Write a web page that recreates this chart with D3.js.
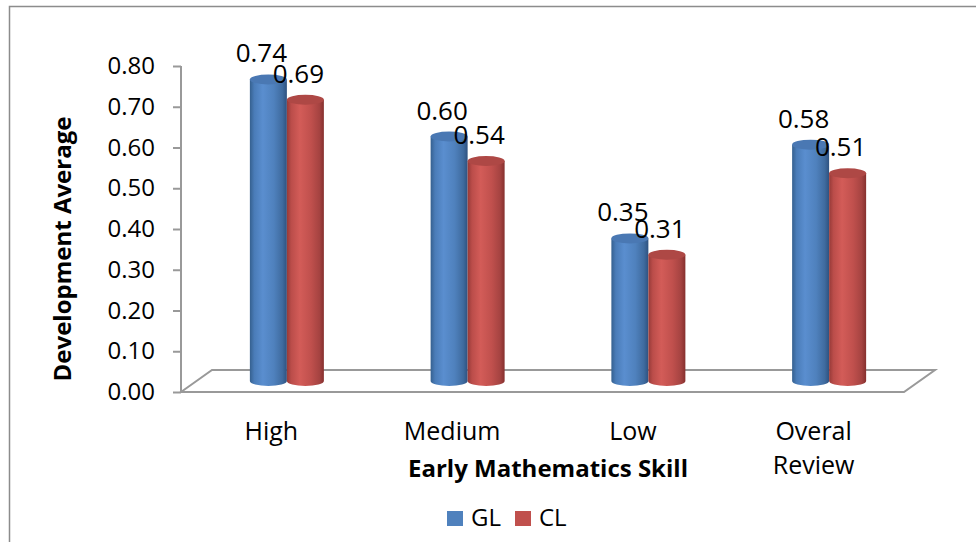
<!DOCTYPE html>
<html><head><meta charset="utf-8">
<script src="https://cdn.jsdelivr.net/npm/d3@7"></script>
<style>html,body{margin:0;padding:0;background:#fff;}svg{display:block;}</style>
</head><body>
<svg id="chart" width="976" height="542"></svg>
<script>
const categories = ["High", "Medium", "Low", "Overal Review"];
const seriesNames = ["GL", "CL"];
const glValues = [0.74, 0.60, 0.35, 0.58];
const clValues = [0.69, 0.54, 0.31, 0.51];
const yTicks = [0, 0.1, 0.2, 0.3, 0.4, 0.5, 0.6, 0.7, 0.8];
const colors = {GL: "#4F81BD", CL: "#C0504D"};

(function () {
const FONT = "'Open Sans', 'Liberation Sans', sans-serif";
const svg = d3.select("#chart");

// outer border
svg.append("rect").attr("x", 9.5).attr("y", 6.5).attr("width", 1000).attr("height", 600)
  .attr("fill", "none").attr("stroke", "#8c8c8c").attr("stroke-width", 1.5);

const pLeft = 181, pRight = 904, pBottom = 392, pTop = 66;
const depthX = 31, depthY = -22;
const y = d3.scaleLinear().domain([0, 0.8]).range([pBottom, pTop]);
const x = d3.scaleBand().domain(categories).range([pLeft, pRight]).paddingInner(0).paddingOuter(0);
const xs = d3.scaleBand().domain(seriesNames).range([-37, 37]);

// gradients
const defs = svg.append("defs");
function grad(id, stops) {
  const g = defs.append("linearGradient").attr("id", id).attr("x1", "0%").attr("x2", "100%").attr("y1", "0%").attr("y2", "0%");
  stops.forEach(s => g.append("stop").attr("offset", s[0]).attr("stop-color", s[1]));
}
grad("gGL", [["0%", "#35608f"], ["12%", "#4a7cb8"], ["35%", "#5a8ecf"], ["65%", "#4f81bd"], ["88%", "#3f6b9f"], ["100%", "#2e5280"]]);
grad("gCL", [["0%", "#963a38"], ["12%", "#bb4d4a"], ["35%", "#d35c58"], ["65%", "#c0504d"], ["88%", "#a54341"], ["100%", "#86302e"]]);
const topColors = {GL: "#4a78b3", CL: "#ae4845"};

// floor
const floorPts = [[pLeft, pBottom], [pLeft + depthX, pBottom + depthY], [pRight + depthX, pBottom + depthY], [pRight, pBottom]];
svg.append("path").attr("d", d3.line()(floorPts) + "Z")
  .attr("fill", "#fff").attr("stroke", "#999").attr("stroke-width", 2);

// y axis line and ticks
svg.append("line").attr("x1", pLeft).attr("x2", pLeft).attr("y1", pTop).attr("y2", pBottom)
  .attr("stroke", "#999").attr("stroke-width", 2);
const yAxis = svg.append("g").attr("transform", `translate(${pLeft},0)`)
  .call(d3.axisLeft(y).tickValues(yTicks).tickFormat(d3.format(".2f")).tickSize(8).tickPadding(18));
yAxis.select(".domain").remove();
yAxis.selectAll(".tick line").attr("stroke", "#999").attr("stroke-width", 2);
yAxis.selectAll(".tick text").attr("font-family", FONT).attr("font-size", 24).attr("fill", "#000");

// bars
const data = [];
categories.forEach((c, i) => {
  data.push({cat: c, s: "GL", v: glValues[i]});
  data.push({cat: c, s: "CL", v: clValues[i]});
});
const bw = 37, ry = 5;
const bars = svg.append("g");
data.forEach(d => {
  const cx = x(d.cat) + x.bandwidth() / 2 + depthX / 2 + xs(d.s) + xs.bandwidth() / 2;
  const y0 = y(0) + depthY / 2;
  const y1 = y(d.v) + depthY / 2;
  const g = bars.append("g");
  g.append("path")
    .attr("d", `M${cx - bw / 2},${y1} L${cx - bw / 2},${y0} A${bw / 2},${ry} 0 0 0 ${cx + bw / 2},${y0} L${cx + bw / 2},${y1} Z`)
    .attr("fill", `url(#g${d.s})`);
  g.append("ellipse").attr("cx", cx).attr("cy", y1).attr("rx", bw / 2).attr("ry", ry)
    .attr("fill", topColors[d.s]);
  d.cx = cx; d.y1 = y1;
});
// labels
data.forEach(d => {
  svg.append("text").attr("x", d.cx - 7).attr("y", d.y1 - 17)
    .attr("text-anchor", "middle").attr("font-family", FONT).attr("font-size", 26)
    .attr("fill", "#000").text(d3.format(".2f")(d.v));
});

// category labels
categories.forEach(c => {
  const words = c.split(" ");
  const t = svg.append("text").attr("x", x(c) + x.bandwidth() / 2).attr("y", 440)
    .attr("text-anchor", "middle").attr("font-family", FONT).attr("font-size", 25).attr("fill", "#000");
  words.forEach((w, i) => t.append("tspan").attr("x", x(c) + x.bandwidth() / 2).attr("dy", i === 0 ? 0 : 34).text(w));
});

// axis titles
svg.append("text").attr("x", 548).attr("y", 477).attr("text-anchor", "middle")
  .attr("font-family", FONT).attr("font-weight", "bold").attr("font-size", 24).attr("fill", "#000")
  .text("Early Mathematics Skill");
svg.append("text").attr("transform", "translate(71,249) rotate(-90)").attr("text-anchor", "middle")
  .attr("font-family", FONT).attr("font-weight", "bold").attr("font-size", 24).attr("fill", "#000")
  .text("Development Average");

// legend
const legend = svg.append("g");
const legX = [447, 515];
seriesNames.forEach((s, i) => {
  legend.append("rect").attr("x", legX[i]).attr("y", 511).attr("width", 16).attr("height", 15).attr("fill", colors[s]);
  legend.append("text").attr("x", legX[i] + 24).attr("y", 526).attr("font-family", FONT).attr("font-size", 24)
    .attr("fill", "#000").text(s);
});
})();
</script>
</body></html>
